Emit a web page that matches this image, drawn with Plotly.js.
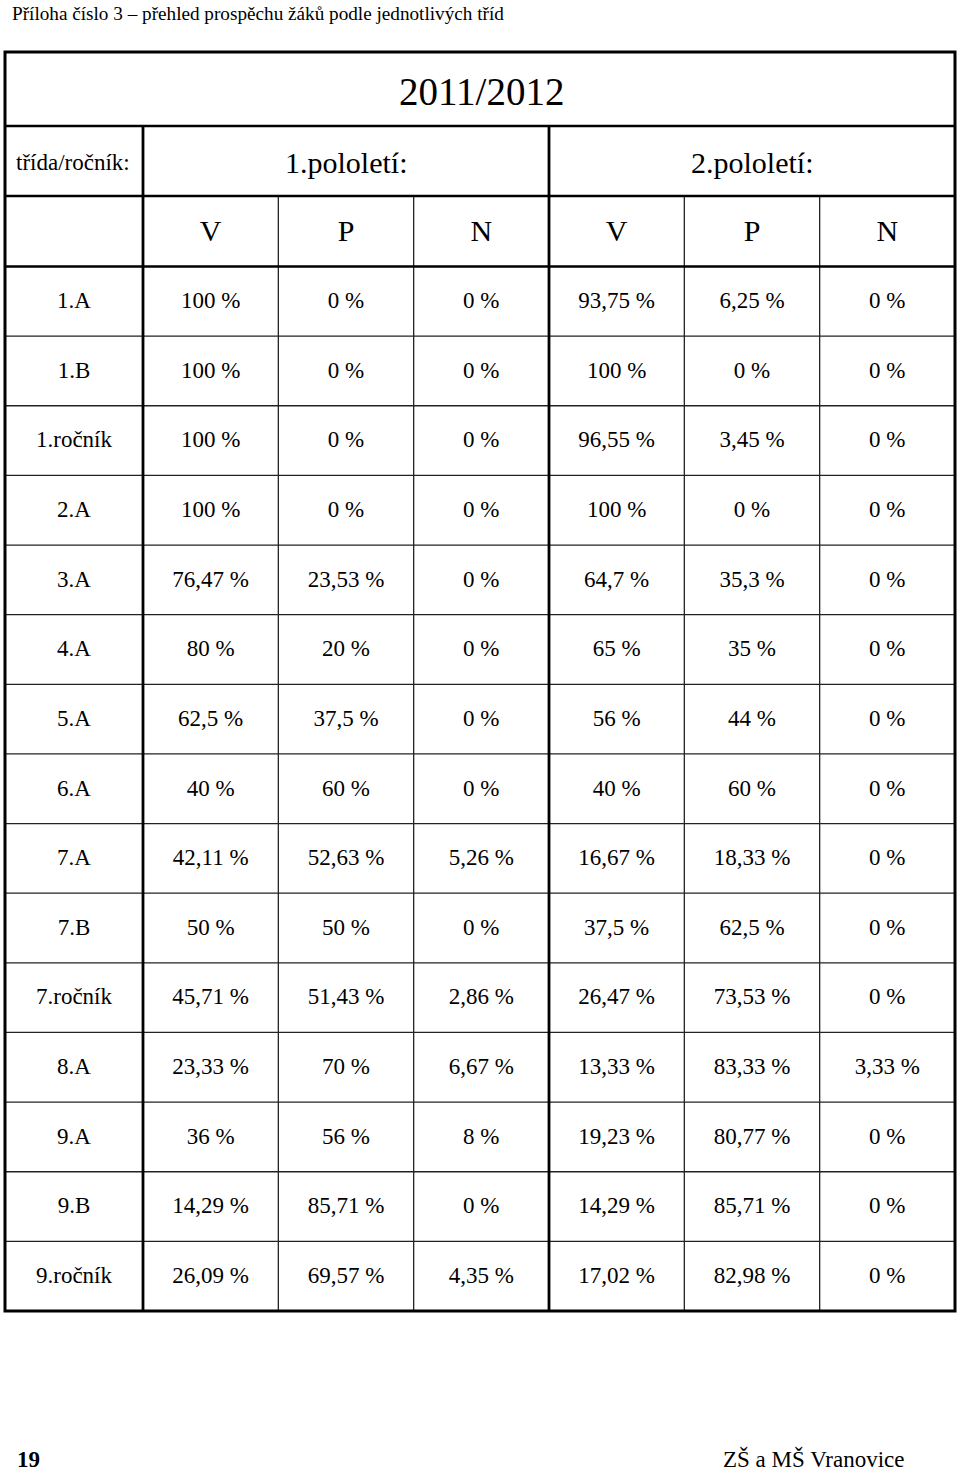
<!DOCTYPE html>
<html>
<head>
<meta charset="utf-8">
<script src="https://cdn.plot.ly/plotly-3.0.1.min.js"></script>
<style>html,body{margin:0;padding:0;background:#fff;}#chart{width:960px;height:1474px;}</style>
</head>
<body>
<div id="chart"></div>
<script>
// ---- data ----
var pageTitle = "Příloha číslo 3 – přehled prospěchu žáků podle jednotlivých tříd";
var yearLabel = "2011/2012";
var firstColHeader = "třída/ročník:";
var termLabels = ["1.pololetí:", "2.pololetí:"];
var gradeLabels = ["V", "P", "N", "V", "P", "N"];
var classes = ["1.A", "1.B", "1.ročník", "2.A", "3.A", "4.A", "5.A", "6.A", "7.A", "7.B", "7.ročník", "8.A", "9.A", "9.B", "9.ročník"];
var v1 = [100, 100, 100, 100, 76.47, 80, 62.5, 40, 42.11, 50, 45.71, 23.33, 36, 14.29, 26.09];
var p1 = [0, 0, 0, 0, 23.53, 20, 37.5, 60, 52.63, 50, 51.43, 70, 56, 85.71, 69.57];
var n1 = [0, 0, 0, 0, 0, 0, 0, 0, 5.26, 0, 2.86, 6.67, 8, 0, 4.35];
var v2 = [93.75, 100, 96.55, 100, 64.7, 65, 56, 40, 16.67, 37.5, 26.47, 13.33, 19.23, 14.29, 17.02];
var p2 = [6.25, 0, 3.45, 0, 35.3, 35, 44, 60, 18.33, 62.5, 73.53, 83.33, 80.77, 85.71, 82.98];
var n2 = [0, 0, 0, 0, 0, 0, 0, 0, 0, 0, 0, 3.33, 0, 0, 0];
var footerPage = "19";
var footerSchool = "ZŠ a MŠ Vranovice";

// ---- layout geometry ----
var L = 5, R = 955, T = 52, B = 1311;
var col0R = 143;
var colW = (R - col0R) / 6;
var yTitleRowB = 126, yTermRowB = 196, yGradeRowB = 266.5;
var rowH = (B - yGradeRowB) / classes.length;
var FONT = "Liberation Serif";

function fmt(v) { return String(v).replace('.', ',') + " %"; }
function colCenter(j) { return col0R + (j + 0.5) * colW; }
function rowCenter(i) { return yGradeRowB + (i + 0.5) * rowH; }

var series = [v1, p1, n1, v2, p2, n2];
var rowY = classes.map(function (c, i) { return rowCenter(i) + 1; });

var traces = [];
traces.push({
  type: 'scatter', mode: 'text', x: classes.map(function () { return (L + col0R) / 2; }), y: rowY,
  text: classes, textposition: 'middle center', cliponaxis: false, hoverinfo: 'skip', showlegend: false,
  textfont: { family: FONT, size: 23, color: '#000' }
});
series.forEach(function (s, j) {
  traces.push({
    type: 'scatter', mode: 'text', x: s.map(function () { return colCenter(j); }), y: rowY,
    text: s.map(fmt), textposition: 'middle center', cliponaxis: false, hoverinfo: 'skip', showlegend: false,
    textfont: { family: FONT, size: 23, color: '#000' }
  });
});
// grade header row
traces.push({
  type: 'scatter', mode: 'text', x: gradeLabels.map(function (g, j) { return colCenter(j); }),
  y: gradeLabels.map(function () { return (yTermRowB + yGradeRowB) / 2 + 2; }),
  text: gradeLabels, textposition: 'middle center', cliponaxis: false, hoverinfo: 'skip', showlegend: false,
  textfont: { family: FONT, size: 30, color: '#000' }
});

var shapes = [];
function line(x0, y0, x1, y1, w, c) {
  shapes.push({ type: 'line', xref: 'x', yref: 'y', x0: x0, y0: y0, x1: x1, y1: y1, line: { color: c || '#000', width: w } });
}
// thin row lines
for (var i = 1; i < classes.length; i++) {
  var yy = yGradeRowB + i * rowH;
  line(L, yy, R, yy, 1.3, '#222');
}
// thin column lines
[1, 2, 4, 5].forEach(function (j) { line(col0R + j * colW, yTermRowB, col0R + j * colW, B, 1.3, '#222'); });
// thick lines
line(L, yTitleRowB, R, yTitleRowB, 2.6);
line(L, yTermRowB, R, yTermRowB, 2.6);
line(L, yGradeRowB, R, yGradeRowB, 2.6);
line(col0R, yTitleRowB, col0R, B, 2.8);
line(col0R + 3 * colW, yTitleRowB, col0R + 3 * colW, B, 2.8);
// outer border
shapes.push({ type: 'rect', xref: 'x', yref: 'y', x0: L, y0: T, x1: R, y1: B, line: { color: '#000', width: 3 }, fillcolor: 'rgba(0,0,0,0)' });

var annotations = [
  { text: pageTitle, x: 11, y: 13, xanchor: 'left', yanchor: 'middle', font: { family: FONT, size: 19.2, color: '#000' } },
  { text: yearLabel, x: 481, y: (T + yTitleRowB) / 2 + 2, xanchor: 'center', yanchor: 'middle', font: { family: FONT, size: 39, color: '#000' } },
  { text: firstColHeader, x: (L + col0R) / 2 - 1, y: (yTitleRowB + yTermRowB) / 2 + 1, xanchor: 'center', yanchor: 'middle', font: { family: FONT, size: 23, color: '#000' } },
  { text: termLabels[0], x: col0R + 1.5 * colW, y: (yTitleRowB + yTermRowB) / 2 + 1, xanchor: 'center', yanchor: 'middle', font: { family: FONT, size: 30, color: '#000' } },
  { text: termLabels[1], x: col0R + 4.5 * colW, y: (yTitleRowB + yTermRowB) / 2 + 1, xanchor: 'center', yanchor: 'middle', font: { family: FONT, size: 30, color: '#000' } },
  { text: "<b>" + footerPage + "</b>", x: 16, y: 1473, xanchor: 'left', yanchor: 'bottom', font: { family: FONT, size: 23, color: '#000' } },
  { text: footerSchool, x: 906, y: 1473, xanchor: 'right', yanchor: 'bottom', font: { family: FONT, size: 23, color: '#000' } }
].map(function (a) { a.xref = 'x'; a.yref = 'y'; a.showarrow = false; a.borderpad = 0; return a; });

var layout = {
  width: 960, height: 1474,
  margin: { l: 0, r: 0, t: 0, b: 0, pad: 0 },
  paper_bgcolor: '#fff', plot_bgcolor: '#fff',
  xaxis: { range: [0, 960], visible: false, fixedrange: true },
  yaxis: { range: [1474, 0], visible: false, fixedrange: true },
  shapes: shapes, annotations: annotations, showlegend: false
};
Plotly.newPlot('chart', traces, layout, { staticPlot: true, displayModeBar: false });
</script>
</body>
</html>
